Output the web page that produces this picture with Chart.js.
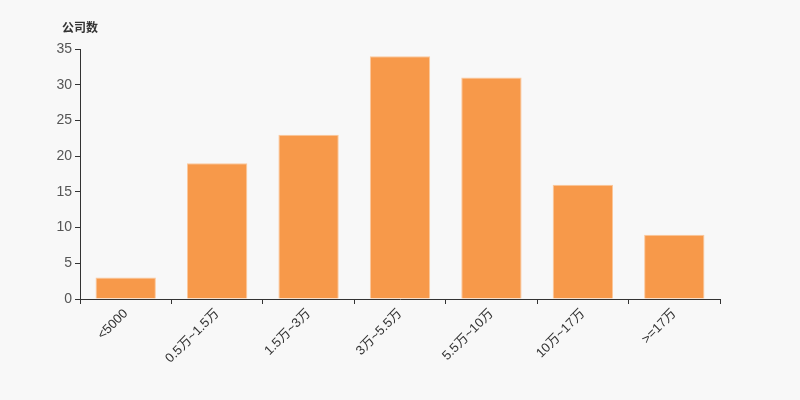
<!DOCTYPE html>
<html>
<head>
<meta charset="utf-8">
<script src="https://cdn.jsdelivr.net/npm/chart.js@4/dist/chart.umd.min.js"></script>
<style>
  html, body { margin: 0; padding: 0; background: #f8f8f8; }
  #wrap { width: 800px; height: 400px; }
</style>
</head>
<body>
<div id="wrap"><canvas id="chart"></canvas></div>
<script>
// Data
const categories = ['<5000', '0.5万~1.5万', '1.5万~3万', '3万~5.5万', '5.5万~10万', '10万~17万', '>=17万'];
const companyCounts = [3, 19, 23, 34, 31, 16, 9];
const yTitle = '公司数';

const fontFamily = "'Liberation Sans', 'Noto Sans CJK SC', sans-serif";

// Axis name drawn above the y axis
const axisNamePlugin = {
    id: 'axisName',
    afterDraw(chart) {
        const ctx = chart.ctx;
        ctx.save();
        ctx.font = `bold 12px 'Noto Sans CJK SC', sans-serif`;
        ctx.fillStyle = '#333';
        ctx.textAlign = 'left';
        ctx.textBaseline = 'middle';
        ctx.fillText(yTitle, 62, 27);
        ctx.restore();
    }
};

const ctx = document.getElementById('chart').getContext('2d');
new Chart(ctx, {
    type: 'bar',
    data: {
        labels: categories,
        datasets: [{
            data: companyCounts,
            backgroundColor: '#f7994a',
            borderColor: '#fbc89c',
            borderWidth: { left: 1, right: 1, top: 1, bottom: 0 },
            barPercentage: 0.66,
            categoryPercentage: 1
        }]
    },
    options: {
        responsive: true,
        maintainAspectRatio: false,
        animation: false,
        layout: { padding: { left: 0, right: 80, top: 49, bottom: 0 } },
        plugins: {
            legend: { display: false },
            tooltip: { enabled: false }
        },
        scales: {
            x: {
                afterFit: (scale) => { scale.height = 101; },
                grid: { drawOnChartArea: false, drawTicks: true, tickLength: 5, color: '#333', offset: true },
                border: { color: '#333', width: 1 },
                ticks: {
                    color: '#333',
                    font: { size: 13, family: fontFamily },
                    minRotation: 45,
                    maxRotation: 45,
                    autoSkip: false,
                    padding: 2
                }
            },
            y: {
                min: 0,
                max: 35,
                afterFit: (scale) => { scale.width = 80; },
                grid: { drawOnChartArea: false, drawTicks: true, tickLength: 5, color: '#333' },
                border: { color: '#333', width: 1 },
                ticks: {
                    stepSize: 5,
                    color: '#555',
                    font: { size: 14, family: fontFamily },
                    padding: 3
                }
            }
        }
    },
    plugins: [axisNamePlugin]
});
</script>
</body>
</html>
